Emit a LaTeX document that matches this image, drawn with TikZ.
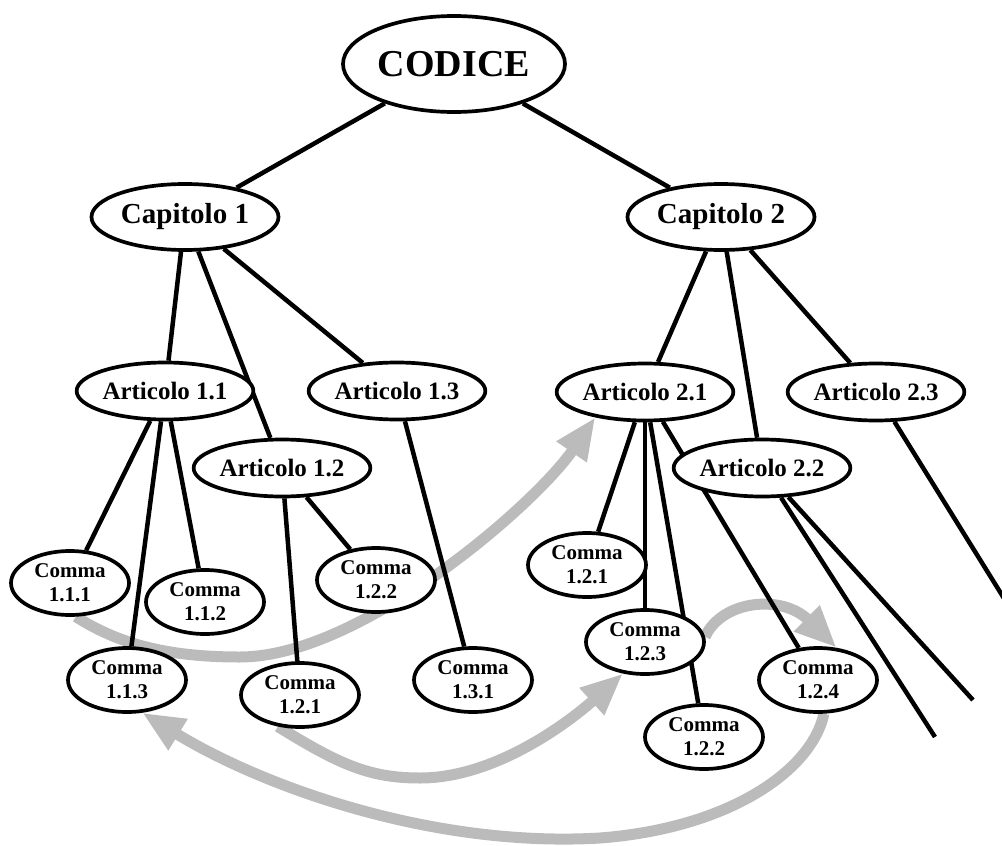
\documentclass[tikz,border=0pt]{standalone}
\usepackage{fontspec}
\setmainfont{Liberation Serif}
\usetikzlibrary{arrows.meta,shapes.geometric}
\pgfdeclarelayer{hint}
\pgfdeclarelayer{link}
\pgfsetlayers{hint,link,main}
\definecolor{hintgray}{RGB}{187,187,187}

\begin{document}
\begin{tikzpicture}[x=1pt,y=-1pt,>=Stealth]
\tikzset{
  lvl/.style={ellipse,draw=black,fill=white,line width=3.7pt,inner sep=0pt,align=center},
  codice/.style={lvl,minimum width=222pt,minimum height=96pt,font=\bfseries\fontsize{38}{44}\selectfont},
  capitolo/.style={lvl,minimum width=187pt,minimum height=66pt,font=\bfseries\fontsize{29}{34}\selectfont},
  articolo/.style={lvl,minimum width=176pt,minimum height=57pt,font=\bfseries\fontsize{25}{30}\selectfont},
  comma/.style={lvl,minimum width=118pt,minimum height=64pt,font=\bfseries\fontsize{21}{24}\selectfont},
  link/.style={line width=4.5pt},
  hint/.style={line width=11pt,draw=hintgray,-{Triangle[length=42pt,width=34pt]}}}
\useasboundingbox (0,0) rectangle (1002,846);
% ---------- tree nodes ----------
\node[codice] (codice) at (454,64) {CODICE};
\node[capitolo] (cap1) at (185,217) {Capitolo 1};
\node[capitolo] (cap2) at (721,217) {Capitolo 2};
\node[articolo] (a11) at (165,391) {Articolo 1.1};
\node[articolo] (a13) at (397,391) {Articolo 1.3};
\node[articolo] (a12) at (282,468) {Articolo 1.2};
\node[articolo] (a21) at (645,392) {Articolo 2.1};
\node[articolo] (a23) at (876,392) {Articolo 2.3};
\node[articolo] (a22) at (762,468) {Articolo 2.2};
% commi of chapter 1
\node[comma] (c111) at (70,583) {Comma\\1.1.1};
\node[comma] (c112) at (205,602) {Comma\\1.1.2};
\node[comma] (c122) at (376,580) {Comma\\1.2.2};
\node[comma] (c113) at (127,680) {Comma\\1.1.3};
\node[comma] (c121) at (300,695) {Comma\\1.2.1};
\node[comma] (c131) at (473,680) {Comma\\1.3.1};
% commi of chapter 2
\node[comma] (d121) at (587,565) {Comma\\1.2.1};
\node[comma] (d123) at (645,642) {Comma\\1.2.3};
\node[comma] (d124) at (818,680) {Comma\\1.2.4};
\node[comma] (d122) at (704,737) {Comma\\1.2.2};
% loose ends
\coordinate (e1) at (935,737);
\coordinate (e2) at (973,700);
\coordinate (e3) at (1010,608);
% ---------- tree links (under the nodes) ----------
\begin{pgfonlayer}{link}
\draw[link] (codice) -- (cap1);  \draw[link] (codice) -- (cap2);
\draw[link] (cap1) -- (a11);  \draw[link] (cap1) -- (a12);  \draw[link] (cap1) -- (a13);
\draw[link] (cap2) -- (a21);  \draw[link] (cap2) -- (a22);  \draw[link] (cap2) -- (a23);
\draw[link] (a11) -- (c111);  \draw[link] (a11) -- (c112);  \draw[link] (a11) -- (c113);
\draw[link] (a12) -- (c121);  \draw[link] (a12) -- (c122);
\draw[link] (a13) -- (c131);
\draw[link] (a21) -- (d121);  \draw[link] (a21) -- (d123);
\draw[link] (a21) -- (d122);  \draw[link] (a21) -- (d124);
\draw[link] (a22) -- (e1);  \draw[link] (a22) -- (e2);
\draw[link] (a23) -- (e3);
\end{pgfonlayer}
% ---------- cross references (below everything) ----------
\begin{pgfonlayer}{hint}
\draw[hint] (c111.280) .. controls (120,645) and (170,657) .. (240,657)
  .. controls (360,657) and (535,505) .. (a21.207);
\draw[hint] (c121.235) .. controls (340,765) and (370,778) .. (420,778)
  .. controls (500,778) and (577,715) .. (d123.235);
\draw[hint] (d123.5) .. controls (722,600) and (782,594) .. (d124.60);
\draw[hint] (d124.280) .. controls (812,770) and (730,828) .. (600,838)
  .. controls (430,848) and (260,785) .. (c113.295);
\end{pgfonlayer}
\end{tikzpicture}
\end{document}
